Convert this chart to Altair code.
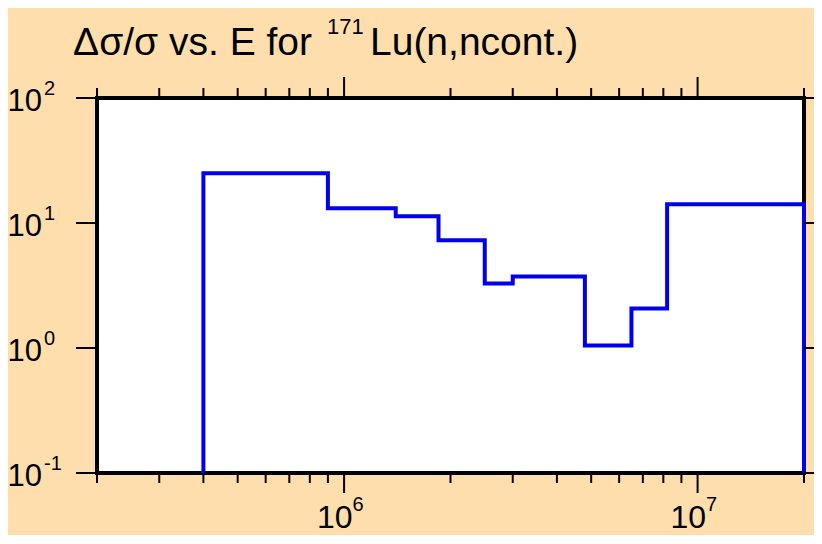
import altair as alt
import pandas as pd

# ---- data ----
energy = [4.0e5, 4.0e5, 9.0e5, 1.4e6, 1.85e6, 2.5e6, 3.0e6, 4.8e6, 6.5e6, 8.2e6, 2.0e7, 2.0e7]
rel_unc = [0.1, 25.0, 13.1, 11.3, 7.27, 3.28, 3.74, 1.045, 2.07, 14.1, 14.1, 0.1]

x_domain = [2.0e5, 2.0e7]
y_domain = [0.1, 100.0]

x_minor = [2e5, 3e5, 4e5, 5e5, 6e5, 7e5, 8e5, 9e5,
           2e6, 3e6, 4e6, 5e6, 6e6, 7e6, 8e6, 9e6, 2e7]
x_major = [1e6, 1e7]
x_major_exp = ["6", "7"]
y_major = [0.1, 1.0, 10.0, 100.0]
y_major_exp = ["-1", "0", "1", "2"]
label_base = "10"

title_parts = ["\u0394\u03c3/\u03c3 vs. E for", "171", "Lu(n,ncont.)"]

# ---- layout ----
W, H = 707, 375
FONT = "Liberation Sans"
BG = "#FFDEAD"
LINE = "#0000ee"

xs = alt.Scale(type="log", domain=x_domain, nice=False)
ys = alt.Scale(type="log", domain=y_domain, nice=False)

df = pd.DataFrame({"E": energy, "r": rel_unc, "i": list(range(len(energy)))})
xminor_df = pd.DataFrame({"E": x_minor})
xmajor_df = pd.DataFrame({"E": x_major, "exp": x_major_exp})
ymajor_df = pd.DataFrame({"r": y_major, "exp": y_major_exp})

X = alt.X("E:Q", scale=xs, axis=None)
Y = alt.Y("r:Q", scale=ys, axis=None)

line = alt.Chart(df).mark_line(
    interpolate="step-after", color=LINE, strokeWidth=4, strokeJoin="miter"
).encode(x=X, y=Y, order=alt.Order("i:Q"))

tick_style = dict(color="black", strokeWidth=2)
bottom_minor = alt.Chart(xminor_df).mark_rule(**tick_style).encode(
    x=X, y=alt.value(H), y2=alt.value(H + 10))
bottom_major = alt.Chart(xmajor_df).mark_rule(**tick_style).encode(
    x=X, y=alt.value(H), y2=alt.value(H + 20))
top_minor = alt.Chart(xminor_df).mark_rule(**tick_style).encode(
    x=X, y=alt.value(-10), y2=alt.value(0))
top_major = alt.Chart(xmajor_df).mark_rule(**tick_style).encode(
    x=X, y=alt.value(-21), y2=alt.value(0))
left_ticks = alt.Chart(ymajor_df).mark_rule(**tick_style).encode(
    y=Y, x=alt.value(-21), x2=alt.value(0))
right_ticks = alt.Chart(ymajor_df).mark_rule(**tick_style).encode(
    y=Y, x=alt.value(W), x2=alt.value(W + 20))

x_base = alt.Chart(xmajor_df).mark_text(
    align="right", baseline="alphabetic", font=FONT, fontSize=32, dx=8.5, color="black"
).encode(x=X, y=alt.value(H + 55), text=alt.value(label_base))
x_exp = alt.Chart(xmajor_df).mark_text(
    align="left", baseline="alphabetic", font=FONT, fontSize=20, dx=8.5, color="black"
).encode(x=X, y=alt.value(H + 38), text="exp:N")
y_base = alt.Chart(ymajor_df).mark_text(
    align="right", baseline="alphabetic", font=FONT, fontSize=31, dy=13, color="black"
).encode(y=Y, x=alt.value(-55), text=alt.value(label_base))
y_exp = alt.Chart(ymajor_df).mark_text(
    align="left", baseline="alphabetic", font=FONT, fontSize=20, dy=-3, color="black"
).encode(y=Y, x=alt.value(-53), text="exp:N")

tdf = pd.DataFrame({"a": [title_parts[0]], "b": [title_parts[1]], "c": [title_parts[2]]})
t1 = alt.Chart(tdf).mark_text(
    align="right", baseline="alphabetic", font=FONT, fontSize=39, color="black"
).encode(text="a:N", x=alt.value(215), y=alt.value(-43.5))
t2 = alt.Chart(tdf).mark_text(
    align="left", baseline="alphabetic", font=FONT, fontSize=22, color="black"
).encode(text="b:N", x=alt.value(230), y=alt.value(-64))
t3 = alt.Chart(tdf).mark_text(
    align="left", baseline="alphabetic", font=FONT, fontSize=39, color="black"
).encode(text="c:N", x=alt.value(273), y=alt.value(-43.5))

chart = alt.layer(
    line, bottom_minor, bottom_major, top_minor, top_major, left_ticks, right_ticks,
    x_base, x_exp, y_base, y_exp, t1, t2, t3
).properties(
    width=W, height=H,
    autosize=alt.AutoSizeParams(type="none"),
    padding={"left": 89, "top": 90, "right": 10, "bottom": 62},
    background=BG,
).configure_view(
    fill="white", stroke="black", strokeWidth=4
)

chart.save("out.html", embed_options={"renderer": "svg", "actions": False})
